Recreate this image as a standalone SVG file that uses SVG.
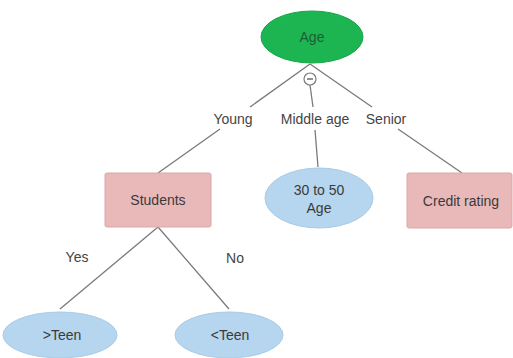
<svg xmlns="http://www.w3.org/2000/svg" width="513" height="358" viewBox="0 0 513 358">
<style>
.edge{stroke:#7a7a7a;stroke-width:1.3;fill:none}
.lbl{font-family:"Liberation Sans",Arial,sans-serif;font-size:14px;fill:#444;text-anchor:middle}
.txt{font-family:"Liberation Sans",Arial,sans-serif;font-size:14px;fill:#3a3a3a;text-anchor:middle}
.box{fill:#e9b9ba;stroke:#dca7a8;stroke-width:1}
.leaf{fill:#b6d5ee;stroke:#a9cbe6;stroke-width:1}
</style>
<rect width="513" height="358" fill="#ffffff"/>
<g id="connectors">
<line class="edge" x1="310" y1="64" x2="250" y2="107"/>
<line class="edge" x1="220" y1="129" x2="158" y2="173"/>
<line class="edge" x1="310" y1="85" x2="313" y2="107"/>
<line class="edge" x1="315" y1="130" x2="318" y2="167"/>
<line class="edge" x1="310" y1="64" x2="372" y2="107"/>
<line class="edge" x1="398" y1="129" x2="462" y2="173"/>
<line class="edge" x1="158" y1="227" x2="60" y2="309"/>
<line class="edge" x1="158" y1="227" x2="229" y2="309"/>
<circle cx="310" cy="79" r="6" fill="#fff" stroke="#7a7a7a" stroke-width="1.2"/>
<line x1="307" y1="79" x2="313" y2="79" stroke="#555" stroke-width="1.3"/>
<text class="lbl" x="233" y="124">Young</text>
<text class="lbl" x="315" y="124">Middle age</text>
<text class="lbl" x="386" y="124">Senior</text>
<text class="lbl" x="77" y="262">Yes</text>
<text class="lbl" x="235" y="263">No</text>
</g>
<g id="age">
<ellipse cx="312" cy="37" rx="51" ry="26" fill="#1db552" stroke="#19a54a"/>
<text class="txt" x="312" y="42" fill="#1e5a30" style="fill:#215c33">Age</text>
</g>
<g id="students">
<rect class="box" x="105" y="173" width="106" height="54" rx="2"/>
<text class="txt" x="158" y="205">Students</text>
</g>
<g id="middle">
<ellipse class="leaf" cx="319" cy="198" rx="54" ry="30"/>
<text class="txt" x="319" y="195">30 to 50</text>
<text class="txt" x="319" y="213">Age</text>
</g>
<g id="credit">
<rect class="box" x="407" y="173" width="105" height="55" rx="2"/>
<text class="txt" x="461" y="206">Credit rating</text>
</g>
<g id="gtteen">
<ellipse class="leaf" cx="60" cy="335" rx="57" ry="23"/>
<text class="txt" x="62" y="340">&gt;Teen</text>
</g>
<g id="ltteen">
<ellipse class="leaf" cx="229" cy="335" rx="54" ry="23"/>
<text class="txt" x="230" y="340">&lt;Teen</text>
</g>
</svg>
